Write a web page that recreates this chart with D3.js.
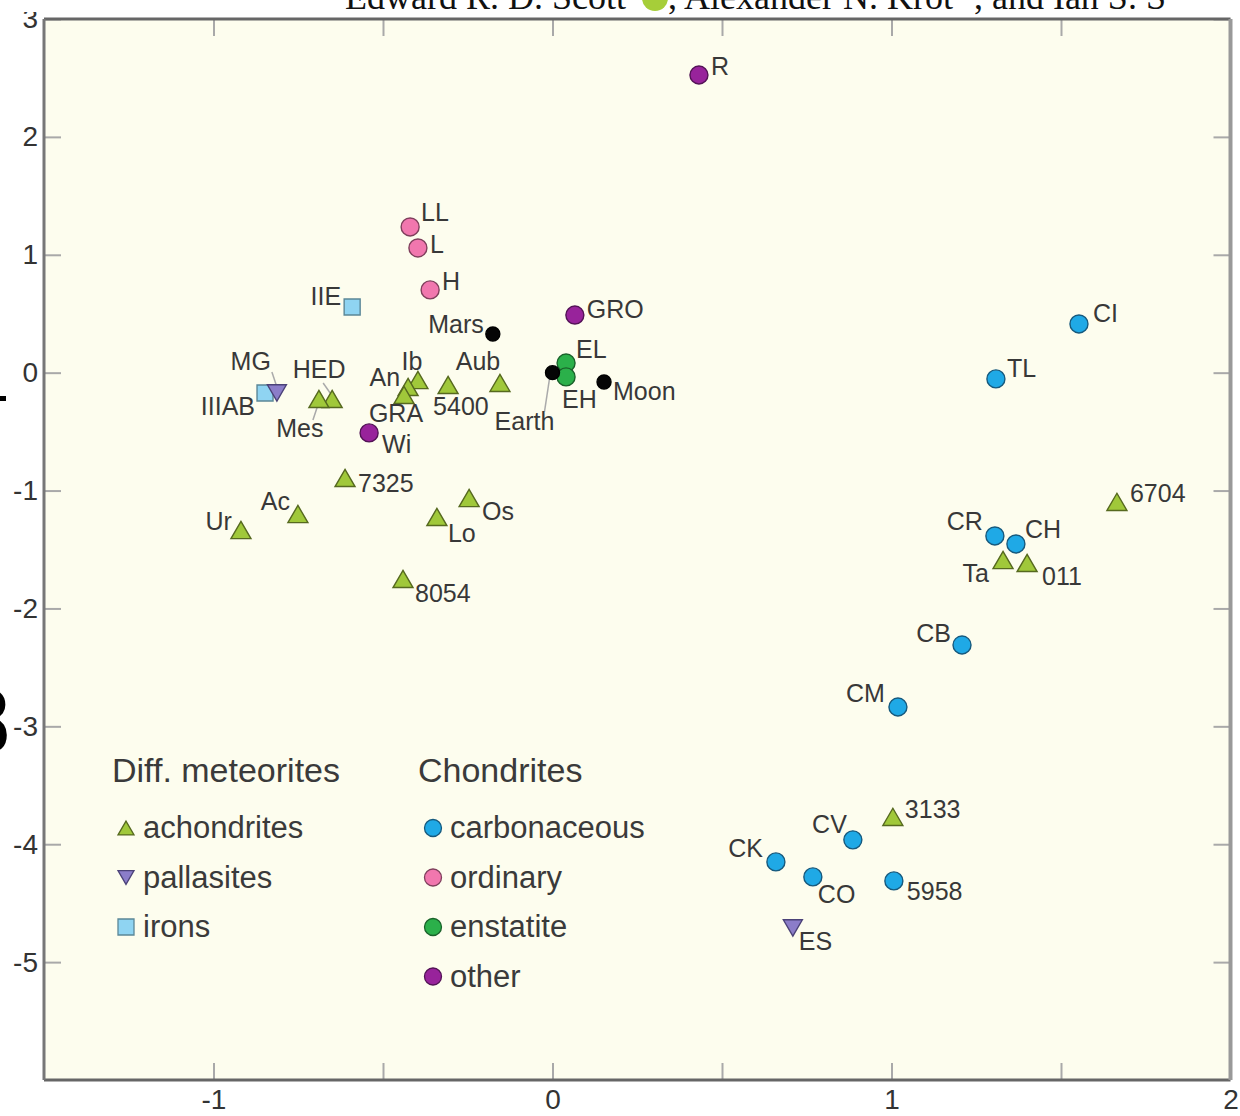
<!DOCTYPE html>
<html>
<head>
<meta charset="utf-8">
<title>Meteorite groups</title>
<script src="https://d3js.org/d3.v7.min.js"></script>
<style>
  body { margin: 0; background: #fff; }
  svg { font-family: "Liberation Sans", Arial, sans-serif; }
</style>
</head>
<body>
<script>

// tick values
var xTicks = [-1, -0.5, 0, 0.5, 1, 1.5, 2];
var yTicks = [-5, -4, -3, -2, -1, 0, 1, 2, 3];

// differentiated meteorites
var achNames = ["HED", "Mes", "Ib", "An", "GRA", "5400", "Aub", "7325", "Ac", "Ur", "Lo", "Os", "8054", "6704", "Ta", "011", "3133"];
var achX = [-0.650, -0.689, -0.397, -0.426, -0.438, -0.308, -0.155, -0.612, -0.751, -0.919, -0.341, -0.246, -0.441, 1.665, 1.329, 1.400, 1.004];
var achY = [-0.223, -0.223, -0.062, -0.121, -0.189, -0.104, -0.087, -0.893, -1.199, -1.335, -1.224, -1.063, -1.750, -1.096, -1.589, -1.614, -3.768];

var palNames = ["MG", "ES"];
var palX = [-0.813, 0.709];
var palY = [-0.172, -4.71];

var ironNames = ["IIE", "IIIAB"];
var ironX = [-0.591, -0.848];
var ironY = [0.557, -0.172];

// chondrites
var carbNames = ["CI", "TL", "CR", "CH", "CB", "CM", "CV", "CK", "CO", "5958"];
var carbX = [1.553, 1.308, 1.305, 1.367, 1.208, 1.019, 0.886, 0.659, 0.768, 1.007];
var carbY = [0.413, -0.053, -1.385, -1.453, -2.310, -2.836, -3.963, -4.150, -4.277, -4.311];

var ordNames = ["LL", "L", "H"];
var ordX = [-0.420, -0.397, -0.361];
var ordY = [1.236, 1.058, 0.702];

var ensNames = ["EL", "EH"];
var ensX = [0.040, 0.040];
var ensY = [0.082, -0.036];

var otherNames = ["R", "GRO", "Wi"];
var otherX = [0.432, 0.066, -0.541];
var otherY = [2.525, 0.489, -0.511];

// planetary bodies
var planetNames = ["Earth", "Mars", "Moon"];
var planetX = [0.0, -0.176, 0.152];
var planetY = [0.0, 0.328, -0.079];

// label placement: dx, dy (to baseline), anchor
var labelPos = {
  "LL": [11, -6, "start"], "L": [12, 5, "start"], "H": [12, 0, "start"],
  "R": [12, 0, "start"], "GRO": [12, 3, "start"], "Wi": [13, 20, "start"],
  "IIE": [-11, -2, "end"], "MG": [-6, -23, "end"], "IIIAB": [-10, 22, "end"],
  "HED": [-13, -21, "middle"], "Mes": [-19, 38, "middle"], "Ib": [-6, -10, "middle"],
  "An": [-8, -1, "end"], "GRA": [-8, 27, "middle"], "5400": [-15, 30, "start"],
  "Aub": [-22, -13, "middle"], "Earth": [-28, 57, "middle"], "EL": [10, -5, "start"],
  "EH": [-4, 31, "start"], "Mars": [-9, -1, "end"], "Moon": [9, 18, "start"],
  "7325": [13, 14, "start"], "Ac": [-8, -4, "end"], "Ur": [-9, 0, "end"],
  "Os": [13, 22, "start"], "Lo": [11, 25, "start"], "8054": [12, 23, "start"],
  "CI": [14, -2, "start"], "TL": [11, -2, "start"], "6704": [13, 0, "start"],
  "CR": [-12, -6, "end"], "CH": [9, -6, "start"], "Ta": [-14, 22, "end"],
  "011": [15, 22, "start"], "CB": [-11, -3, "end"], "CM": [-13, -5, "end"],
  "3133": [12, 1, "start"], "CV": [-6, -7, "end"], "CK": [-13, -5, "end"],
  "CO": [5, 26, "start"], "5958": [13, 19, "start"], "ES": [6, 22, "start"]
};

// leader lines relative to the point
var leaders = {
  "MG": [-5, -21, 0, -6],
  "HED": [-9, -16, -2, -6],
  "Mes": [-6, 21, -1, 6],
  "Earth": [-3, 6, -8, 39]
};

var W = 1240, H = 1116;
var margin = {top: 19, right: 9.5, bottom: 36, left: 44};

var svg = d3.select("body").append("svg")
  .attr("width", W)
  .attr("height", H);

var x = d3.scaleLinear().domain([-1.5, 2]).range([margin.left, W - margin.right]);
var y = d3.scaleLinear().domain([-6, 3]).range([H - margin.bottom, margin.top]);

// plot background
svg.append("rect")
  .attr("x", x(-1.5))
  .attr("y", y(3))
  .attr("width", x(2) - x(-1.5))
  .attr("height", y(-6) - y(3))
  .attr("fill", "#fdfdee");

var fmt = function(d) { return Number.isInteger(d) ? String(d) : ""; };

function styleAxis(g) {
  g.select(".domain").remove();
  g.selectAll(".tick line").attr("stroke", "#a9a9a9").attr("stroke-width", 2);
  g.selectAll(".tick text").attr("fill", "#333").attr("font-size", "28px")
    .style("font-family", "\"Liberation Sans\", Arial, sans-serif");
}

svg.append("g")
  .attr("transform", "translate(0," + y(-6) + ")")
  .call(d3.axisBottom(x).tickValues(xTicks).tickSize(-17).tickPadding(9).tickFormat(fmt))
  .call(styleAxis);

svg.append("g")
  .attr("transform", "translate(0," + y(3) + ")")
  .call(d3.axisTop(x).tickValues(xTicks).tickSize(-17).tickFormat(""))
  .call(styleAxis);

svg.append("g")
  .attr("transform", "translate(" + x(-1.5) + ",0)")
  .call(d3.axisLeft(y).tickValues(yTicks).tickSize(-17).tickPadding(6).tickFormat(fmt))
  .call(styleAxis);

svg.append("g")
  .attr("transform", "translate(" + x(2) + ",0)")
  .call(d3.axisRight(y).tickValues(yTicks).tickSize(-17).tickFormat(""))
  .call(styleAxis);

// frame
var frame = svg.append("g").attr("fill", "none");
frame.append("line").attr("x1", x(-1.5)).attr("x2", x(2)).attr("y1", y(3)).attr("y2", y(3))
  .attr("stroke", "#666").attr("stroke-width", 3);
frame.append("line").attr("x1", x(-1.5)).attr("x2", x(2)).attr("y1", y(-6)).attr("y2", y(-6))
  .attr("stroke", "#666").attr("stroke-width", 3);
frame.append("line").attr("x1", x(-1.5)).attr("x2", x(-1.5)).attr("y1", y(3)).attr("y2", y(-6))
  .attr("stroke", "#777").attr("stroke-width", 3);
frame.append("line").attr("x1", x(2)).attr("x2", x(2)).attr("y1", y(3)).attr("y2", y(-6))
  .attr("stroke", "#999").attr("stroke-width", 4);

// marker shapes, centred on their bounding box
function shapePath(shape, s) {
  if (shape === "up") {
    var w = s, h = s * 0.86;
    return "M0," + (-h / 2) + "L" + (w / 2) + "," + (h / 2) + "L" + (-w / 2) + "," + (h / 2) + "Z";
  }
  if (shape === "down") {
    var w2 = s, h2 = s * 0.86;
    return "M0," + (h2 / 2) + "L" + (w2 / 2) + "," + (-h2 / 2) + "L" + (-w2 / 2) + "," + (-h2 / 2) + "Z";
  }
  if (shape === "square") {
    return "M" + (-s / 2) + "," + (-s / 2) + "h" + s + "v" + s + "h" + (-s) + "Z";
  }
  var r = s / 2;
  return "M" + r + ",0A" + r + "," + r + " 0 1,1 " + (-r) + ",0A" + r + "," + r + " 0 1,1 " + r + ",0Z";
}

var groups = [
  {names: ironNames, xs: ironX, ys: ironY, shape: "square", size: 16, fill: "#8fd4f2", stroke: "#5b8797"},
  {names: achNames, xs: achX, ys: achY, shape: "up", size: 20, fill: "#a0c83a", stroke: "#56691f"},
  {names: palNames, xs: palX, ys: palY, shape: "down", size: 19, fill: "#8b7dc9", stroke: "#4b4278"},
  {names: ordNames, xs: ordX, ys: ordY, shape: "circle", size: 18, fill: "#f177ae", stroke: "#7f3f5c"},
  {names: otherNames, xs: otherX, ys: otherY, shape: "circle", size: 18, fill: "#98239b", stroke: "#531356"},
  {names: carbNames, xs: carbX, ys: carbY, shape: "circle", size: 18, fill: "#1fa9e6", stroke: "#16597d"},
  {names: ensNames, xs: ensX, ys: ensY, shape: "circle", size: 18, fill: "#2bb04a", stroke: "#1a622a"},
  {names: planetNames, xs: planetX, ys: planetY, shape: "circle", size: 14, fill: "#050505", stroke: "#000"}
];

var allPoints = [];
groups.forEach(function(g) {
  g.names.forEach(function(n, i) {
    allPoints.push({name: n, x: g.xs[i], y: g.ys[i]});
  });
});

// leader lines
svg.append("g").selectAll("line")
  .data(allPoints.filter(function(d) { return leaders[d.name]; }))
  .enter()
  .append("line")
  .attr("x1", function(d) { return x(d.x) + leaders[d.name][0]; })
  .attr("y1", function(d) { return y(d.y) + leaders[d.name][1]; })
  .attr("x2", function(d) { return x(d.x) + leaders[d.name][2]; })
  .attr("y2", function(d) { return y(d.y) + leaders[d.name][3]; })
  .attr("stroke", "#aaa")
  .attr("stroke-width", 1.5);

// markers
groups.forEach(function(g) {
  var pts = g.names.map(function(n, i) { return {name: n, x: g.xs[i], y: g.ys[i]}; });
  svg.append("g").selectAll("path")
    .data(pts)
    .enter()
    .append("path")
    .attr("d", shapePath(g.shape, g.size))
    .attr("transform", function(d) { return "translate(" + x(d.x) + "," + y(d.y) + ")"; })
    .attr("fill", g.fill)
    .attr("stroke", g.stroke)
    .attr("stroke-width", 1.4);
});

// point labels
svg.append("g").selectAll("text")
  .data(allPoints)
  .enter()
  .append("text")
  .text(function(d) { return d.name; })
  .attr("x", function(d) { return x(d.x) + labelPos[d.name][0]; })
  .attr("y", function(d) { return y(d.y) + labelPos[d.name][1]; })
  .attr("text-anchor", function(d) { return labelPos[d.name][2]; })
  .attr("font-size", "25px")
  .attr("fill", "#383838");

// legend
var legendHeads = ["Diff. meteorites", "Chondrites"];
var legendLeft = [
  {label: "achondrites", g: groups[1]},
  {label: "pallasites", g: groups[2]},
  {label: "irons", g: groups[0]}
];
var legendRight = [
  {label: "carbonaceous", g: groups[5]},
  {label: "ordinary", g: groups[3]},
  {label: "enstatite", g: groups[6]},
  {label: "other", g: groups[4]}
];

var leg = svg.append("g");
leg.selectAll("text.head")
  .data(legendHeads)
  .enter()
  .append("text")
  .attr("class", "head")
  .attr("x", function(d, i) { return i === 0 ? 112 : 418; })
  .attr("y", 782)
  .attr("font-size", "34px")
  .attr("fill", "#3a3a3a")
  .text(function(d) { return d; });

function legendColumn(items, mx, tx) {
  var col = leg.append("g");
  var row = col.selectAll("g")
    .data(items)
    .enter()
    .append("g")
    .attr("transform", function(d, i) { return "translate(0," + (828 + i * 49.5) + ")"; });
  row.append("path")
    .attr("d", function(d) { return shapePath(d.g.shape, d.g.shape === "circle" ? 17 : 16); })
    .attr("transform", "translate(" + mx + ",0)")
    .attr("fill", function(d) { return d.g.fill; })
    .attr("stroke", function(d) { return d.g.stroke; })
    .attr("stroke-width", 1.3);
  row.append("text")
    .attr("x", tx)
    .attr("y", 10)
    .attr("font-size", "31px")
    .attr("fill", "#3a3a3a")
    .text(function(d) { return d.label; });
}
legendColumn(legendLeft, 126, 143);
legendColumn(legendRight, 433, 450);

// page fragments around the cropped figure
var serif = "\"Liberation Serif\", \"DejaVu Serif\", serif";
svg.append("rect").attr("x", 0).attr("y", 0).attr("width", W).attr("height", 12).attr("fill", "#fff");
svg.append("text")
  .attr("x", 345).attr("y", 9)
  .style("font-family", serif)
  .attr("font-size", "36px")
  .attr("fill", "#111")
  .text("Edward R. D. Scott");
svg.append("circle").attr("cx", 655).attr("cy", -2).attr("r", 13).attr("fill", "#a6ce39");
svg.append("text")
  .attr("x", 668).attr("y", 9)
  .style("font-family", serif)
  .attr("font-size", "36px")
  .attr("fill", "#111")
  .text(", Alexander N. Krot \u2019, and Ian S. S");
svg.append("rect").attr("x", 0).attr("y", 396).attr("width", 6).attr("height", 5).attr("fill", "#000");
svg.append("text")
  .attr("x", 10).attr("y", 752)
  .attr("text-anchor", "end")
  .style("font-family", serif)
  .attr("font-weight", "bold")
  .attr("font-size", "96px")
  .attr("fill", "#000")
  .text("8");

</script>
</body>
</html>
